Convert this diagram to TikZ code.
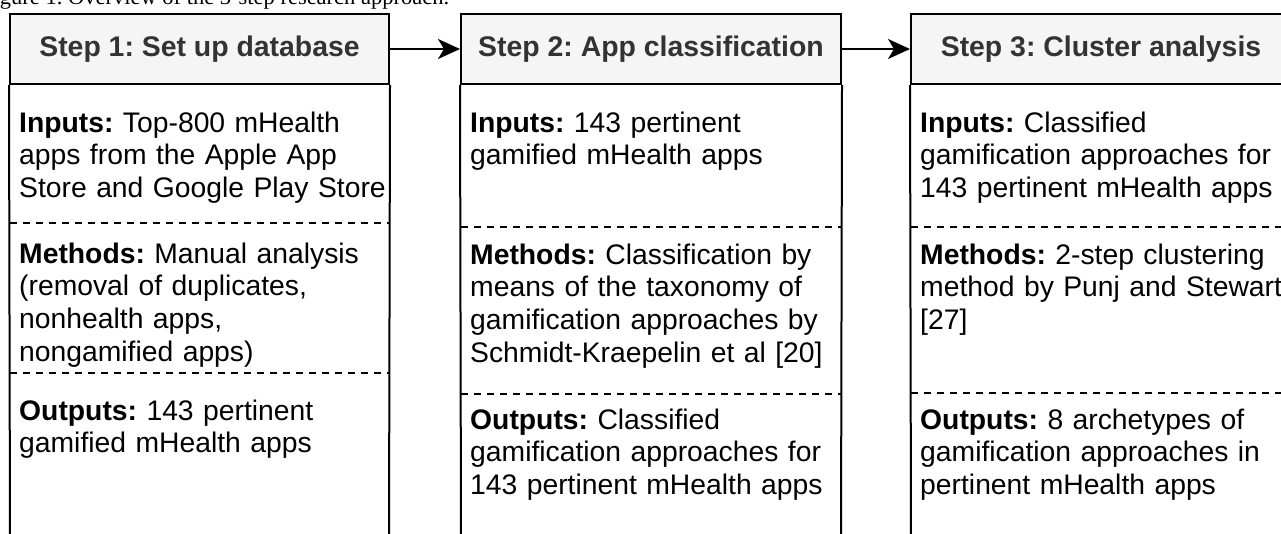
\documentclass[tikz,border=0pt]{standalone}
\usepackage{fontspec}
\setmainfont{Liberation Sans}
\newfontfamily\capfont{Liberation Serif}
\usetikzlibrary{arrows.meta}
\definecolor{hdrfill}{HTML}{F5F5F5}
\definecolor{hdrtext}{HTML}{333333}
\frenchspacing
\begin{document}
\begin{tikzpicture}[x=1pt,y=-1pt,
  hdr/.style={draw=black, line width=2pt, fill=hdrfill, minimum height=70pt, inner sep=0pt, text=hdrtext, font=\fontsize{28.4}{33}\selectfont\bfseries},
  body/.style={anchor=base west, inner sep=0pt, text width=372pt, align=left, font=\fontsize{28.3}{32.8}\selectfont},
  side/.style={line width=2pt, draw=black},
  sep/.style={line width=1.6pt, dash pattern=on 7pt off 6pt},
  flow/.style={line width=2pt, -{Stealth[length=22pt, width=20pt, inset=6pt]}}]
\useasboundingbox (0,0) rectangle (1281,533);
% caption (cut off at the top)
\node[anchor=base west, inner sep=0pt, font=\capfont\fontsize{22.5}{24}\selectfont] (cap) at (-19,4) {Figure 1. Overview of the 3-step research approach.};
% headers
\node[hdr, minimum width=379pt] (h1) at (199.5,49) {Step 1: Set up database};
\node[hdr, minimum width=380pt] (h2) at (651,49) {Step 2: App classification};
\node[hdr, minimum width=380pt] (h3) at (1101,49) {Step 3: Cluster analysis};
% box sides
\draw[side] (h1.south west) -- (10,545);
\draw[side] (h1.south east) -- (389,545);
\draw[side] (h2.south west) -- (461,545);
\draw[side] (h2.south east) -- (841,545);
\draw[side] (h3.south west) -- (911,545);
\draw[side] (h3.south east) -- (1291,545);
% dashed separators
\draw[sep] (10,223) -- (389,223);
\draw[sep] (10,373) -- (389,373);
\draw[sep] (461,227) -- (841,227);
\draw[sep] (461,394) -- (841,394);
\draw[sep] (911,227) -- (1291,227);
\draw[sep] (911,393) -- (1291,393);
% arrows
\draw[flow] (h1.east) -- (h2.west);
\draw[flow] (h2.east) -- (h3.west);
% box 1
\node[body] (i1) at (19,132) {\textbf{Inputs:} Top-800 mHealth\\apps from the Apple App\\Store and Google Play Store};
\node[body] (m1) at (19,263) {\textbf{Methods:} Manual analysis\\(removal of duplicates,\\nonhealth apps,\\nongamified apps)};
\node[body] (o1) at (19,420) {\textbf{Outputs:} 143 pertinent\\gamified mHealth apps};
% box 2
\node[body] (i2) at (470,132) {\textbf{Inputs:} 143 pertinent\\gamified mHealth apps};
\node[body] (m2) at (470,264) {\textbf{Methods:} Classification by\\means of the taxonomy of\\gamification approaches by\\Schmidt-Kraepelin et al [20]};
\node[body] (o2) at (470,429) {\textbf{Outputs:} Classified\\gamification approaches for\\143 pertinent mHealth apps};
% box 3
\node[body] (i3) at (920,132) {\textbf{Inputs:} Classified\\gamification approaches for\\143 pertinent mHealth apps};
\node[body] (m3) at (920,264) {\textbf{Methods:} 2-step clustering\\method by Punj and Stewart\\{[27]}};
\node[body] (o3) at (920,429) {\textbf{Outputs:} 8 archetypes of\\gamification approaches in\\pertinent mHealth apps};
\end{tikzpicture}
\end{document}
